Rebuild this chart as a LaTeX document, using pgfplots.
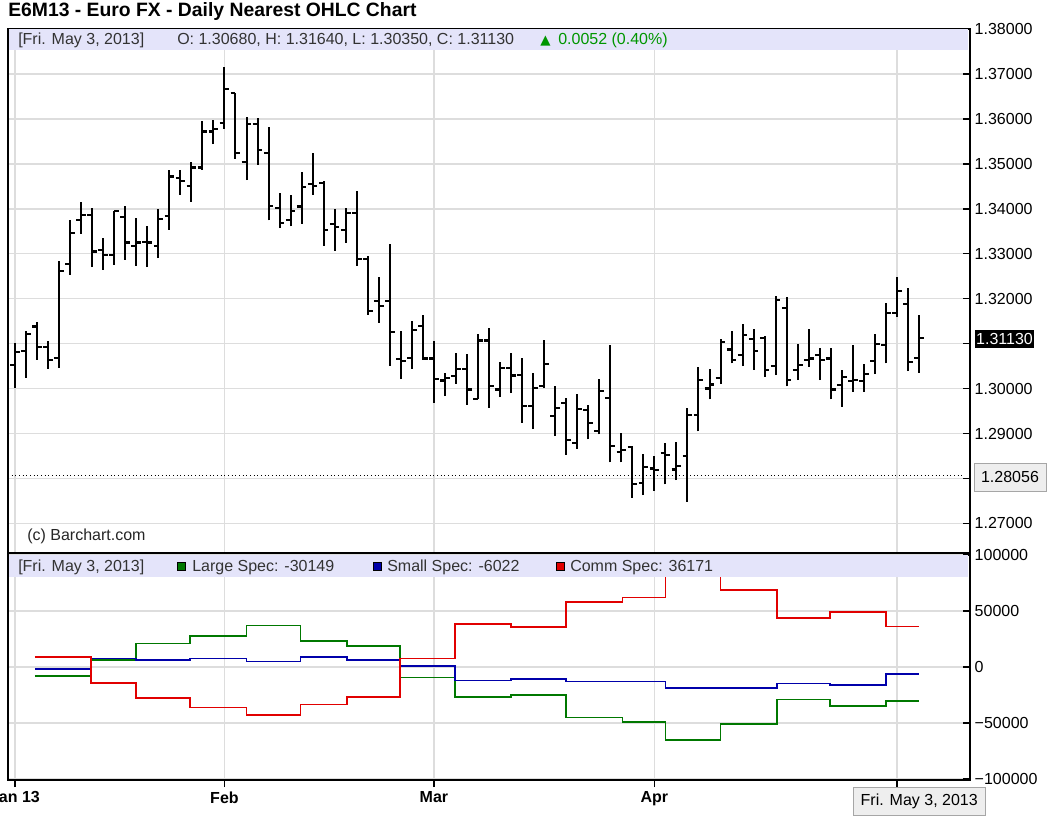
\documentclass[border=0pt]{standalone}
\usepackage{pgfplots}
\pgfplotsset{compat=1.18}
\usepackage{pgfplotstable}
\usepackage{fontspec}
\setmainfont{Liberation Sans}
\newfontfamily\djv{DejaVu Sans}

\definecolor{gridc}{RGB}{221,221,221}
\definecolor{bandc}{RGB}{228,228,250}
\definecolor{lsg}{RGB}{0,120,0}
\definecolor{ssb}{RGB}{0,0,170}
\definecolor{csr}{RGB}{225,0,0}
\definecolor{upg}{RGB}{0,150,0}
\definecolor{boxg}{RGB}{238,238,238}

\pgfdeclareplotmark{ohlcL}{\pgfpathmoveto{\pgfqpoint{-\pgfplotmarksize}{0pt}}\pgfpathlineto{\pgfqpoint{0pt}{0pt}}\pgfusepathqstroke}
\pgfdeclareplotmark{ohlcR}{\pgfpathmoveto{\pgfqpoint{0pt}{0pt}}\pgfpathlineto{\pgfqpoint{\pgfplotmarksize}{0pt}}\pgfusepathqstroke}

\newcommand\lf{\fontsize{12}{14}\selectfont}

\pgfplotstableread{
i O H L C
1 1.3052 1.3101 1.3001 1.3081
2 1.3084 1.3127 1.3024 1.3121
3 1.3138 1.3148 1.3064 1.3092
4 1.3092 1.3105 1.3044 1.3064
5 1.3068 1.3283 1.3046 1.3262
6 1.3278 1.3376 1.3253 1.3347
7 1.3376 1.3415 1.3344 1.3387
8 1.3387 1.3401 1.3270 1.3305
9 1.3309 1.3335 1.3264 1.3298
10 1.3298 1.3396 1.3276 1.3396
11 1.3381 1.3407 1.3287 1.3325
12 1.3318 1.3379 1.3273 1.3325
13 1.3327 1.3362 1.3270 1.3325
14 1.3318 1.3399 1.3290 1.3378
15 1.3384 1.3487 1.3353 1.3472
16 1.3468 1.3487 1.3431 1.3461
17 1.3451 1.3505 1.3416 1.3492
18 1.3492 1.3596 1.3487 1.3572
19 1.3572 1.3598 1.3544 1.3578
20 1.3590 1.3715 1.3578 1.3666
21 1.3657 1.3657 1.3511 1.3524
22 1.3505 1.3605 1.3464 1.3588
23 1.3588 1.3603 1.3498 1.3531
24 1.3525 1.3583 1.3374 1.3407
25 1.3401 1.3435 1.3357 1.3368
26 1.3376 1.3431 1.3361 1.3396
27 1.3405 1.3481 1.3367 1.3448
28 1.3455 1.3525 1.3431 1.3451
29 1.3457 1.3461 1.3318 1.3353
30 1.3366 1.3399 1.3307 1.3359
31 1.3352 1.3401 1.3324 1.3390
32 1.3390 1.3439 1.3273 1.3288
33 1.3288 1.3294 1.3164 1.3173
34 1.3194 1.3248 1.3147 1.3183
35 1.3194 1.3322 1.3051 1.3125
36 1.3066 1.3129 1.3021 1.3061
37 1.3068 1.3151 1.3044 1.3131
38 1.3139 1.3164 1.3064 1.3067
39 1.3067 1.3105 1.2968 1.3021
40 1.3018 1.3035 1.2983 1.3024
41 1.3027 1.3079 1.3011 1.3044
42 1.3044 1.3076 1.2964 1.2998
43 1.2977 1.3122 1.2976 1.3107
44 1.3107 1.3135 1.2957 1.3005
45 1.2998 1.3059 1.2981 1.3046
46 1.3046 1.3079 1.2990 1.3029
47 1.3031 1.3068 1.2924 1.2961
48 1.2961 1.3035 1.2910 1.3001
49 1.3005 1.3109 1.3001 1.3055
50 1.2939 1.3005 1.2894 1.2957
51 1.2968 1.2978 1.2853 1.2885
52 1.2879 1.2989 1.2866 1.2955
53 1.2953 1.2964 1.2887 1.2924
54 1.2905 1.3021 1.2898 1.2994
55 1.2979 1.3096 1.2836 1.2873
56 1.2859 1.2901 1.2836 1.2864
57 1.2870 1.2873 1.2757 1.2787
58 1.2789 1.2855 1.2763 1.2825
59 1.2822 1.2850 1.2773 1.2819
60 1.2856 1.2878 1.2787 1.2852
61 1.2820 1.2881 1.2796 1.2827
62 1.2850 1.2957 1.2748 1.2942
63 1.2941 1.3047 1.2905 1.3020
64 1.3000 1.3044 1.2976 1.3009
65 1.3024 1.3111 1.3010 1.3104
66 1.3087 1.3127 1.3056 1.3063
67 1.3074 1.3144 1.3050 1.3119
68 1.3111 1.3133 1.3042 1.3084
69 1.3113 1.3116 1.3026 1.3042
70 1.3050 1.3207 1.3030 1.3198
71 1.3180 1.3204 1.3005 1.3020
72 1.3041 1.3100 1.3019 1.3052
73 1.3064 1.3133 1.3048 1.3067
74 1.3074 1.3091 1.3019 1.3064
75 1.3067 1.3091 1.2976 1.2998
76 1.3007 1.3042 1.2959 1.3026
77 1.3017 1.3096 1.2993 1.3020
78 1.3017 1.3054 1.2993 1.3033
79 1.3061 1.3121 1.3032 1.3100
80 1.3096 1.3190 1.3056 1.3168
81 1.3169 1.3248 1.3159 1.3217
82 1.3189 1.3224 1.3039 1.3059
83 1.3068 1.3164 1.3035 1.3113
}\ohlc

\pgfplotstableread{
x y
2.8 -8200
7.9 6500
12.0 20900
16.9 27900
22.0 37100
26.9 23500
31.1 18500
35.9 -9400
40.9 -26500
46.0 -25300
51.0 -45000
56.1 -49100
60.0 -65000
65.0 -50600
70.1 -29100
74.9 -34700
80.0 -30149
83.0 -30149
}\largespec

\pgfplotstableread{
x y
2.8 -1500
7.9 7600
12.0 6500
16.9 7600
22.0 5000
26.9 9100
31.1 6500
35.9 1200
40.9 -12100
46.0 -10900
51.0 -12900
56.1 -12900
60.0 -18800
65.0 -18800
70.1 -14700
74.9 -16200
80.0 -6022
83.0 -6022
}\smallspec

\pgfplotstableread{
x y
2.8 9100
7.9 -14400
12.0 -27900
16.9 -36200
22.0 -42600
26.9 -33500
31.1 -26800
35.9 7600
40.9 38200
46.0 35900
51.0 57900
56.1 62000
60.0 84000
65.0 69100
70.1 43500
74.9 48800
80.0 36171
83.0 36171
}\commspec

\begin{document}
\begin{tikzpicture}
\useasboundingbox (0,0) rectangle (785.25pt,-612.75pt);
\fill[white] (0,0) rectangle (785.25pt,-612.75pt);

\begin{axis}[name=top, at={(6pt,-21.375pt)}, anchor=north west,
  scale only axis, width=721.5pt, height=393.375pt,
  xmin=0.365, xmax=87.63, ymin=1.26341, ymax=1.38012,
  xtick={1,20,39,59,81}, xticklabels={}, xtick pos=bottom,
  major x tick style={draw=none},
  ytick={1.27,1.28,1.29,1.30,1.31,1.32,1.33,1.34,1.35,1.36,1.37,1.38},
  yticklabels={1.27000,,1.29000,1.30000,,1.32000,1.33000,1.34000,1.35000,1.36000,1.37000,1.38000},
  ytick pos=right, yticklabel pos=right,
  yticklabel style={font=\lf},
  grid=major, major grid style={gridc, line width=1.1pt},
  axis line style={black, line width=1.1pt},
  major tick length=5.25pt, tick style={black, line width=1.1pt},
  clip=true]
\addplot[black, line width=1.5pt, quiver={u=0, v=\thisrow{H}-\thisrow{L}}] table[x=i,y=L]{\ohlc};
\addplot[only marks, mark=ohlcL, mark size=3.6pt, mark options={black, line width=1.6pt}] table[x=i,y=O]{\ohlc};
\addplot[only marks, mark=ohlcR, mark size=3.6pt, mark options={black, line width=1.6pt}] table[x=i,y=C]{\ohlc};
\draw[black, dotted, line width=0.75pt] (axis cs:0.365,1.28056) -- (axis cs:87.0,1.28056);
\end{axis}

\begin{axis}[name=bot, at={(6pt,-414.75pt)}, anchor=north west,
  scale only axis, width=721.5pt, height=170.25pt,
  xmin=0.365, xmax=87.63, ymin=-100893, ymax=101786,
  xtick={1,20,39,59,81}, xticklabels={Jan 13,Feb,Mar,Apr,{}},
  xtick pos=bottom, xtick align=outside,
  xticklabel style={font=\lf\bfseries},
  ytick={-100000,-50000,0,50000,100000},
  yticklabels={−100000,−50000,0,50000,100000},
  scaled y ticks=false,
  ytick pos=right, yticklabel pos=right,
  yticklabel style={font=\lf},
  grid=major, major grid style={gridc, line width=1.1pt},
  axis line style={black, line width=1.1pt},
  major tick length=5.25pt, tick style={black, line width=1.1pt},
  clip=true]
\addplot[const plot, lsg, line width=1.35pt] table[x=x,y=y]{\largespec};
\addplot[const plot, ssb, line width=1.35pt] table[x=x,y=y]{\smallspec};
\addplot[const plot, csr, line width=1.35pt] table[x=x,y=y]{\commspec};
\end{axis}

\begin{scope}[x=0.75pt, y=-0.75pt]
% title
\node[anchor=base west, inner sep=0, font=\fontsize{14.5}{16}\selectfont\bfseries] at (8,17) {E6M13 - Euro FX - Daily Nearest OHLC Chart};
% top band
\fill[bandc] (9,29.3) rectangle (967.7,50);
\node[anchor=base west, inner sep=0, font=\lf, text=black!80] at (18,45) {[Fri. May 3, 2013]};
\node[anchor=base west, inner sep=0, font=\lf, text=black!80] at (177,45) {O: 1.30680, H: 1.31640, L: 1.30350, C: 1.31130};
\node[anchor=base west, inner sep=0, font=\djv\fontsize{10}{12}\selectfont, text=upg] at (540,45) {▲};
\node[anchor=base west, inner sep=0, font=\lf, text=upg] at (558,45) {0.0052 (0.40\%)};
% copyright
\node[anchor=base west, inner sep=0, font=\lf, text=black!85] at (27,540) {(c) Barchart.com};
% separator
\draw[black, line width=1.9pt] (8,553) -- (970,553);
% bottom band
\fill[bandc] (9,554.6) rectangle (967.7,577);
\node[anchor=base west, inner sep=0, font=\lf, text=black!80] at (18,571.7) {[Fri. May 3, 2013]};
\filldraw[fill=lsg, draw=black, line width=0.5pt] (177,562) rectangle (185,570);
\node[anchor=base west, inner sep=0, font=\lf, text=black!80] at (192,571.7) {Large Spec: -30149};
\filldraw[fill=ssb, draw=black, line width=0.5pt] (373,562) rectangle (381,570);
\node[anchor=base west, inner sep=0, font=\lf, text=black!80] at (387,571.7) {Small Spec: -6022};
\filldraw[fill=csr, draw=black, line width=0.5pt] (556,562) rectangle (564,570);
\node[anchor=base west, inner sep=0, font=\lf, text=black!80] at (570,571.7) {Comm Spec: 36171};
% right value boxes
\node[fill=black, text=white, font=\lf, inner sep=0, minimum width=44.25pt, minimum height=13.5pt] at (1004.5,339) {1.31130};
\node[fill=boxg, draw=gray!70, line width=0.6pt, font=\lf, inner sep=0, minimum width=54pt, minimum height=21pt] at (1010,477) {1.28056};
% date box
\node[fill=boxg, draw=gray!70, line width=0.6pt, font=\lf, inner sep=0, minimum width=99.4pt, minimum height=21pt] at (919.25,801) {Fri. May 3, 2013};
\end{scope}
\end{tikzpicture}
\end{document}
